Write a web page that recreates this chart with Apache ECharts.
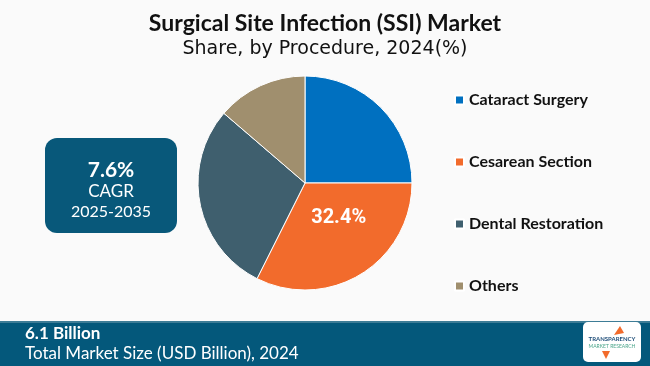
<!DOCTYPE html>
<html><head><meta charset="utf-8">
<script src="https://cdn.jsdelivr.net/npm/echarts@6/dist/echarts.min.js"></script>
<style>html,body{margin:0;padding:0;background:#fafafa}#c{width:650px;height:366px}</style>
</head><body><div id="c"></div>
<script>
const categories = ['Cataract Surgery', 'Cesarean Section', 'Dental Restoration', 'Others'];
const shares = [25.0, 32.4, 28.9, 13.7];
const colors = ['#0070C0', '#F26B2C', '#3F5F6E', '#A08F6E'];
const labelled = 'Cesarean Section';
const titleText = 'Surgical Site Infection (SSI) Market';
const subtitleText = 'Share, by Procedure, 2024(%)';
const cagrValue = '7.6%';
const cagrLabel = 'CAGR';
const cagrPeriod = '2025-2035';
const marketSize = '6.1 Billion';
const marketLabel = 'Total Market Size (USD Billion), 2024';

const chart = echarts.init(document.getElementById('c'), null, {renderer: 'canvas'});
const data = categories.map((n, i) => ({
  name: n, value: shares[i], itemStyle: {color: colors[i]},
  label: n === labelled ? {show: true, position: 'inside', formatter: '{c}%', color: '#fff',
    fontSize: 20, fontWeight: 'bold', fontFamily: 'Roboto', offset: [4, -13]} : {show: false}
}));
chart.setOption({
  backgroundColor: '#fafafa',
  animation: false,
  title: [
    {text: titleText, left: 'center', top: 7, textStyle: {fontFamily: 'Lato', fontWeight: 'bold', fontSize: 23, color: '#111'}},
    {text: subtitleText, left: 'center', top: 35, textStyle: {fontFamily: 'DejaVu Sans', fontWeight: 'normal', fontSize: 19, color: '#111'}}
  ],
  legend: {
    orient: 'vertical', left: 449, top: 86, icon: 'rect', itemWidth: 9, itemHeight: 9,
    itemGap: 44, data: categories,
    textStyle: {fontFamily: 'Lato', fontWeight: 'bold', fontSize: 16, color: '#111', lineHeight: 18}
  },
  graphic: [
    {type: 'rect', left: 45, top: 138, shape: {width: 132, height: 95, r: 12}, style: {fill: '#08587A'}},
    {type: 'text', x: 111, y: 170, style: {text: cagrValue, fill: '#fff', font: 'bold 21px Lato', textAlign: 'center', textVerticalAlign: 'middle'}},
    {type: 'text', x: 111, y: 192, style: {text: cagrLabel, fill: '#fff', font: '17px Lato', textAlign: 'center', textVerticalAlign: 'middle'}},
    {type: 'text', x: 111, y: 212, style: {text: cagrPeriod, fill: '#fff', font: '16px Lato', textAlign: 'center', textVerticalAlign: 'middle'}},
    {type: 'rect', left: 0, top: 321, shape: {width: 650, height: 45}, style: {fill: '#04587B'}},
    {type: 'rect', left: 0, top: 321, shape: {width: 650, height: 2}, style: {fill: '#3D7C96'}},
    {type: 'text', x: 25, y: 334, style: {text: marketSize, fill: '#fff', font: 'bold 17px Lato', textVerticalAlign: 'middle'}},
    {type: 'text', x: 25, y: 354, style: {text: marketLabel, fill: '#fff', font: '17px Lato', textVerticalAlign: 'middle'}},
    {type: 'rect', left: 583, top: 322, shape: {width: 58, height: 40, r: 5}, style: {fill: '#fff'}},
    {type: 'text', x: 612, y: 339, style: {text: 'TRANSPARENCY', fill: '#1f4e79', font: 'bold 6px Lato', textAlign: 'center', textVerticalAlign: 'middle'}},
    {type: 'text', x: 612, y: 346, style: {text: 'MARKET RESEARCH', fill: '#4aa58a', font: '5px Lato', textAlign: 'center', textVerticalAlign: 'middle'}},
    {type: 'polygon', shape: {points: [[614, 335], [620, 326], [624, 333]]}, style: {fill: '#F26B2C'}},
    {type: 'polygon', shape: {points: [[602, 351], [610, 351], [606, 359]]}, style: {fill: '#F26B2C'}}
  ],
  series: [{
    type: 'pie', center: [305, 183], radius: [0, 107], startAngle: 90, clockwise: true,
    itemStyle: {borderColor: '#fff', borderWidth: 1}, labelLine: {show: false},
    emphasis: {disabled: true}, data
  }]
});
</script></body></html>
